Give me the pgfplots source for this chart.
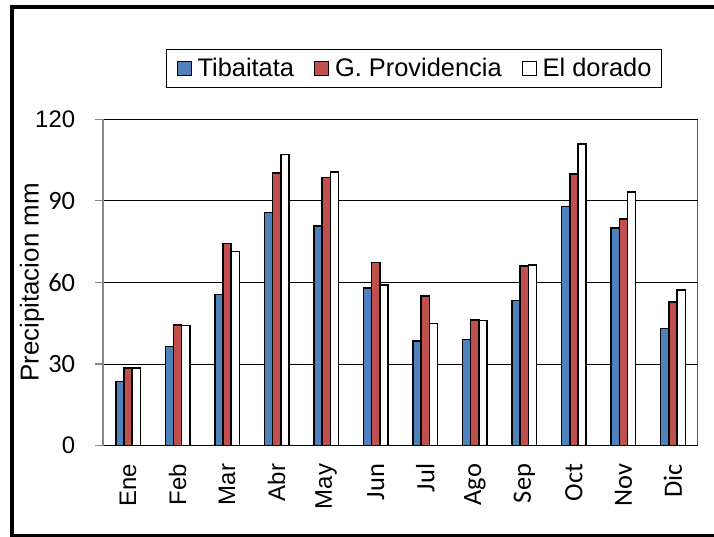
\documentclass[border=0pt]{standalone}
\usepackage{pgfplots}
\pgfplotsset{compat=1.18}
\usepackage{fontspec}
\setmainfont{Liberation Sans}
\newfontfamily\calf{Carlito}
\newcommand\A[1]{{\fontsize{24}{28}\selectfont #1}}
\newcommand\C[1]{{\fontsize{26.5}{30}\selectfont\calf #1}}
\definecolor{cblue}{RGB}{79,129,189}
\definecolor{cred}{RGB}{192,80,77}
\definecolor{axgray}{RGB}{134,134,134}
\begin{document}
\begin{tikzpicture}[x=1bp,y=1bp]
\useasboundingbox (0,0) rectangle (714,537);
\draw[line width=4.5bp] (12,0.5) rectangle (730,530);
\begin{axis}[
  at={(103.3bp,91.3bp)}, anchor=south west,
  scale only axis, width=594.4bp, height=326.4bp,
  ybar=0pt, bar width=8.2bp,
  xmin=-0.5, xmax=11.5, ymin=0, ymax=120,
  xtick={0,...,11},
  xticklabels={\A{Ene},\A{Feb},\A{Mar},\A{Abr},\A{May},\C{Jun},\C{Jul},\C{Ago},\C{Sep},\C{Oct},\C{Nov},\C{Dic}},
  ytick={0,30,60,90,120},
  yticklabels={\A{0},\C{30},\C{60},\C{90},\A{120}},
  axis x line*=bottom, axis y line*=left,
  axis line style={-},
  x axis line style={black, line width=1.2bp},
  y axis line style={axgray, line width=2.2bp},
  ymajorgrids, major grid style={black, line width=1bp},
  xtick style={draw=none},
  ytick style={axgray, line width=1.2bp},
  tick align=outside, major tick length=8bp,
  xticklabel style={rotate=90, anchor=east, inner sep=0pt},
  yticklabel style={anchor=east, inner sep=0pt},
  xticklabel shift=10bp,
  yticklabel shift=20bp,
  ylabel={Precipitacion mm},
  ylabel style={at={(axis description cs:-0.12,0.5)}, anchor=center, font=\fontsize{26}{30}\selectfont},
  legend columns=-1,
  legend style={at={(axis description cs:0.5227,1.1556)}, anchor=center, draw=black, line width=1bp,
    font=\fontsize{25.5}{30}\selectfont, nodes={inner sep=0pt},
    /tikz/every odd column/.append style={column sep=6bp},
    /tikz/every even column/.append style={column sep=20bp},
    inner xsep=10bp, inner ysep=9bp},
  legend image code/.code={\draw[#1, draw=black, line width=1bp] (0bp,-7bp) rectangle (14bp,7bp);},
]
\addplot[fill=cblue, draw=black, line width=1.5bp] coordinates {(0,23.6) (1,36.5) (2,55.6) (3,85.8) (4,80.8) (5,58.0) (6,38.4) (7,39.0) (8,53.4) (9,87.9) (10,80.1) (11,43.0)};
\addplot[fill=cred, draw=black, line width=1.5bp] coordinates {(0,28.6) (1,44.3) (2,74.4) (3,100.2) (4,98.6) (5,67.3) (6,55.1) (7,46.3) (8,66.1) (9,99.9) (10,83.4) (11,52.9)};
\addplot[fill=white, draw=black, line width=1.5bp] coordinates {(0,28.6) (1,44.1) (2,71.4) (3,107.0) (4,100.7) (5,59.0) (6,44.9) (7,46.0) (8,66.5) (9,111.0) (10,93.2) (11,57.2)};
\legend{Tibaitata,G. Providencia,El dorado}
\draw[black, line width=1.2bp] (rel axis cs:1,0) -- (rel axis cs:1,1);
\end{axis}
\end{tikzpicture}
\end{document}
